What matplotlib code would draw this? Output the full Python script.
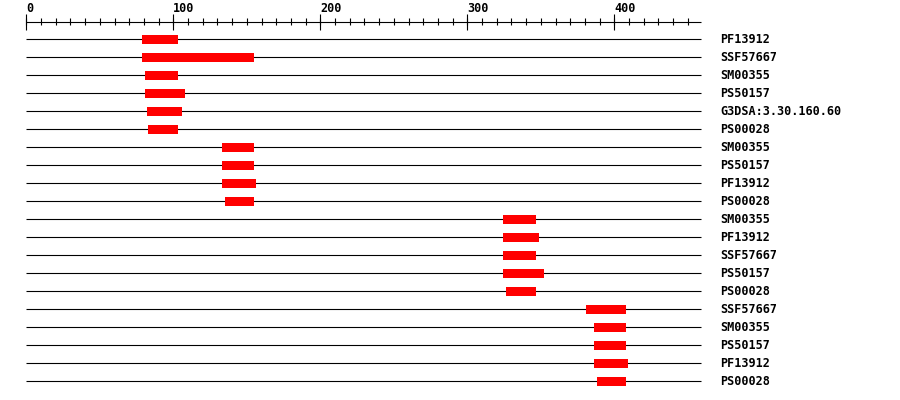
import matplotlib
matplotlib.use("Agg")
import matplotlib.pyplot as plt

labels = ["PF13912", "SSF57667", "SM00355", "PS50157", "G3DSA:3.30.160.60", "PS00028",
          "SM00355", "PS50157", "PF13912", "PS00028",
          "SM00355", "PF13912", "SSF57667", "PS50157", "PS00028",
          "SSF57667", "SM00355", "PS50157", "PF13912", "PS00028"]
starts = [79, 79, 81, 81, 82, 83,
          133, 133, 133, 135,
          324, 324, 324, 324, 326,
          381, 386, 386, 386, 388]
ends = [103, 155, 103, 108, 106, 103,
        155, 155, 156, 155,
        347, 349, 347, 352, 347,
        408, 408, 408, 409, 408]
seq_length = 459
major_ticks = [0, 100, 200, 300, 400]
minor_ticks = list(range(0, 451, 10))

W, H = 900, 400
x0_px, px_per_unit = 26.3, 1.47
row0_px, row_step_px = 39.3, 18.0

fig = plt.figure(figsize=(W / 100, H / 100), dpi=100)
ax = fig.add_axes([0, 0, 1, 1])
ax.set_xlim(-x0_px / px_per_unit, (W - x0_px) / px_per_unit)
ax.set_ylim((H - row0_px) / row_step_px, -row0_px / row_step_px)
ax.axis("off")

def prow(px):
    return (px - row0_px) / row_step_px

font = dict(family="DejaVu Sans Mono", weight="bold", size=8.5)
lw = 0.8

# ruler
ruler_y = prow(21.7)
ax.hlines(ruler_y, 0, seq_length, color="black", lw=lw)
ax.vlines(minor_ticks, prow(18), prow(25), color="black", lw=lw)
ax.vlines(major_ticks, prow(14), prow(29.5), color="black", lw=lw)
for t in major_ticks:
    ax.text(t, prow(12.5), str(t), ha="left", va="baseline", **font)

bar_h = 9.0 / row_step_px
for i, (lab, s, e) in enumerate(zip(labels, starts, ends)):
    ax.hlines(i, 0, seq_length, color="black", lw=lw, zorder=1)
    ax.barh(i, e - s, left=s, height=bar_h, color="#ff0000", zorder=2)
    ax.text((720 - x0_px) / px_per_unit, i, lab, ha="left", va="center", **font)

fig.savefig("out.png", dpi=100)
